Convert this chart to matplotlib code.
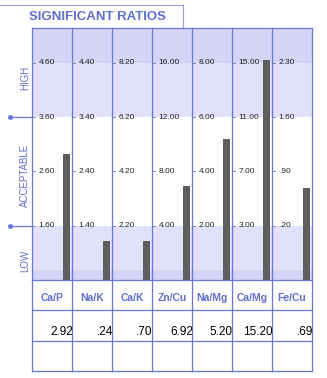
import numpy as np
import matplotlib
matplotlib.use("Agg")
import matplotlib.pyplot as plt
from matplotlib.lines import Line2D

plt.rcParams['font.family'] = ['Liberation Sans', 'DejaVu Sans']

ratios = ["Ca/P", "Na/K", "Ca/K", "Zn/Cu", "Na/Mg", "Ca/Mg", "Fe/Cu"]
values = [2.92, 0.24, 0.70, 6.92, 5.20, 15.20, 0.69]
value_labels = ["2.92", ".24", ".70", "6.92", "5.20", "15.20", ".69"]
# tick values per column, bottom (low limit) to top
ticks = [
    [1.60, 2.60, 3.60, 4.60],
    [1.40, 2.40, 3.40, 4.40],
    [2.20, 4.20, 6.20, 8.20],
    [4.00, 8.00, 12.00, 16.00],
    [2.00, 4.00, 6.00, 8.00],
    [3.00, 7.00, 11.00, 15.00],
    [0.20, 0.90, 1.60, 2.30],
]
zones = ["LOW", "ACCEPTABLE", "HIGH"]

LINE = "#6a75da"
TXT = "#5f6fd2"
BAND = "#e1e1fc"
BAND_DARK = "#d4d4f7"
BAR = "#5e5e5e"
MIN_BAR = 0.72
TOP = 4.64

W, H = 327, 378


def fmt(v):
    s = f"{v:.2f}"
    return s[1:] if s.startswith("0") else s


def to_units(v, t):
    step = t[1] - t[0]
    return max(1 + (v - t[0]) / step, MIN_BAR)


def fx(px):
    return px / W


def fy(py):
    return 1 - py / H


fig = plt.figure(figsize=(W / 100, H / 100), dpi=100)

# main chart area
ax = fig.add_axes([fx(32), fy(280), fx(280), (280 - 28) / H])
ax.set_xlim(0, 7)
ax.set_ylim(0, TOP)
ax.axis('off')

ax.axhspan(3, 4, color=BAND, lw=0)
ax.axhspan(4, TOP, color=BAND_DARK, lw=0)
ax.axhspan(0.18, 1, color=BAND, lw=0)
ax.axhspan(0, 0.18, color=BAND_DARK, lw=0)

n = len(ratios)
heights = [to_units(v, t) for v, t in zip(values, ticks)]
ax.bar(np.arange(n) + 0.8625, heights, width=0.175, color=BAR, zorder=3)

for i, t in enumerate(ticks):
    for k, tv in enumerate(t):
        ax.plot([i, i + 0.075], [k + 1, k + 1], color="#777777", lw=0.6)
        ax.text(i + 0.17, k + 1, fmt(tv), fontsize=6, va='center',
                ha='left', color="#222222")

for x in range(n + 1):
    ax.plot([x, x], [0, TOP], color=LINE, lw=0.9, zorder=4, clip_on=False)
ax.plot([0, n], [TOP, TOP], color=LINE, lw=0.9, clip_on=False)

# zone labels and markers on the left
for label, yc in zip(zones, [0.35, 1.93, 3.73]):
    ax.text(-0.175, yc, label, rotation=90, fontsize=7, color=TXT,
            ha='center', va='center')
for yl in [1, 3]:
    ax.plot([-0.55, 0], [yl, yl], color=LINE, lw=0.9, clip_on=False)
    ax.plot([-0.55], [yl], 'o', color=LINE, ms=2.5, clip_on=False)

# table under the chart
tab = fig.add_axes([fx(32), fy(371), fx(280), (371 - 280) / H])
tab.set_xlim(0, 7)
tab.set_ylim(3, 0)
tab.axis('off')
for r in range(4):
    tab.plot([0, n], [r, r], color=LINE, lw=0.9, clip_on=False)
for x in range(n + 1):
    tab.plot([x, x], [0, 3], color=LINE, lw=0.9, clip_on=False)
for i, (name, vl) in enumerate(zip(ratios, value_labels)):
    tab.text(i + 0.5, 0.6, name, fontsize=7.5, fontweight='bold', color=TXT,
             ha='center', va='center')
    tab.text(i + 1.02, 1.7, vl, fontsize=8.5, color="black",
             ha='right', va='center')

# title box
fig.add_artist(Line2D([fx(0), fx(183)], [fy(5), fy(5)], color=LINE, lw=0.8, alpha=0.7))
fig.add_artist(Line2D([fx(183), fx(183)], [fy(5), fy(28)], color=LINE, lw=0.8, alpha=0.7))
fig.text(fx(97.5), fy(17), "SIGNIFICANT RATIOS", fontsize=9.5, fontweight='bold',
         color=TXT, ha='center', va='center')

fig.savefig("out.png", dpi=100, facecolor="white")
